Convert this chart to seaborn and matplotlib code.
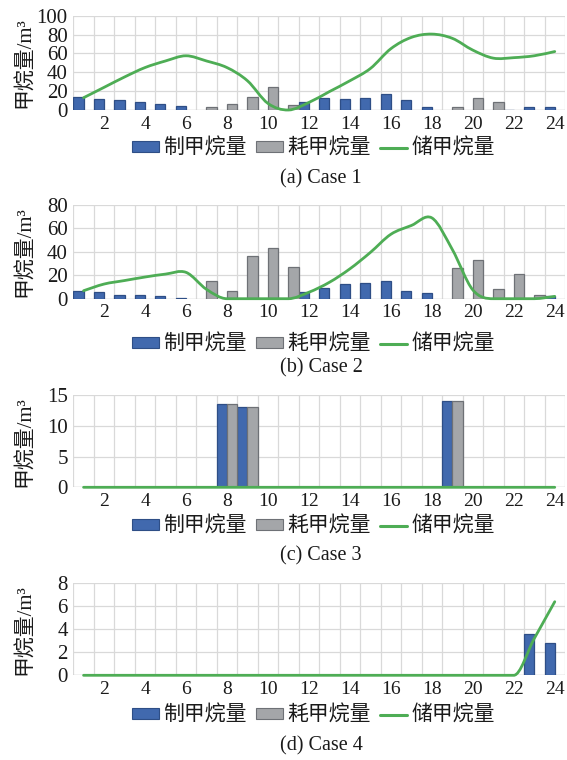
import numpy as np
import pandas as pd
import matplotlib
matplotlib.use("Agg")
import matplotlib.pyplot as plt
from matplotlib.path import Path
from matplotlib.patches import PathPatch, Patch
from matplotlib.lines import Line2D
import seaborn as sns

# ---- data -------------------------------------------------------------
hours = list(range(1, 25))

case1_make = [13.4, 11.3, 10.2, 8.1, 6.4, 4.6, 0, 0, 0, 0, 0, 8.5,
              12.4, 12.0, 12.4, 17.0, 10.2, 3.2, 0, 0, 0, 0.4, 3.2, 3.2]
case1_use = [0, 0, 0, 0, 0, 0, 3.5, 6.4, 13.4, 24.4, 5.3, 0,
             0, 0, 0, 0, 0, 0, 3.2, 12.4, 8.1, 0, 0, 0]
case1_store = [13, 24, 35, 45, 52, 57.5, 52, 45, 31, 7, 0, 8,
               19.5, 31, 44, 65, 77, 80.5, 76, 63.5, 55, 55.5, 57.5, 62]

case2_make = [6.8, 6.0, 3.4, 3.1, 2.6, 0.6, 0, 0, 0, 0, 0, 6.0,
              9.4, 12.3, 13.7, 14.8, 6.3, 5.1, 0, 0, 0, 0, 0, 2.0]
case2_use = [0, 0, 0, 0, 0, 0, 14.8, 6.8, 36.8, 43.3, 26.8, 0,
             0, 0, 0, 0, 0, 0, 26.2, 33.3, 8.3, 21.4, 3.1, 0]
case2_store = [6.8, 12.5, 15.5, 18.5, 21, 22.5, 8, 0, 0, 0, 0, 5.5,
               14, 25.5, 39.5, 55, 62.5, 69, 42, 7.5, 0, 0, 0, 2]

case3_make = [0, 0, 0, 0, 0, 0, 0, 13.5, 13.1, 0, 0, 0,
              0, 0, 0, 0, 0, 0, 14.0, 0, 0, 0, 0, 0]
case3_use = [0, 0, 0, 0, 0, 0, 0, 13.5, 13.1, 0, 0, 0,
             0, 0, 0, 0, 0, 0, 14.0, 0, 0, 0, 0, 0]
case3_store = [0] * 24

case4_make = [0] * 22 + [3.6, 2.8]
case4_use = [0] * 24
case4_store = [0] * 22 + [3.2, 6.4]

series_names = ["制甲烷量", "耗甲烷量", "储甲烷量"]
titles = ["(a) Case 1", "(b) Case 2", "(c) Case 3", "(d) Case 4"]
y_max = [100, 80, 15, 8]
y_step = [20, 20, 5, 2]
y_label = "甲烷量/m³"

cases = [
    (case1_make, case1_use, case1_store),
    (case2_make, case2_use, case2_store),
    (case3_make, case3_use, case3_store),
    (case4_make, case4_use, case4_store),
]

# ---- style ------------------------------------------------------------
BLUE, BLUE_EDGE = "#4169AE", "#2E4E86"
GRAY, GRAY_EDGE = "#A4A6A9", "#6E7176"
GREEN = "#4EAD55"
GRID = "#D9D9D9"
TEXT = "#1a1a1a"
FONTS = ["Liberation Serif", "Noto Sans CJK SC"]

sns.set_theme(style="white")
plt.rcParams["font.family"] = FONTS
plt.rcParams["axes.unicode_minus"] = False

W, H = 567, 760
fig = plt.figure(figsize=(W / 100, H / 100), dpi=100)

# axes boxes in pixels: (top, bottom)
boxes = [(15.7, 110.0), (205.0, 298.7), (395.0, 487.3), (583.3, 675.3)]
left_px, right_px = 73.3, 565.0
legend_y = [149, 345, 527, 716]
title_y = [179, 368, 556, 746]


def smooth_path(xs, ys):
    """Cubic Bezier path through every point; runs of zero stay flat."""
    pts = np.column_stack([xs, ys]).astype(float)
    n = len(pts)
    tang = np.zeros_like(pts)
    for i in range(n):
        a = pts[max(i - 1, 0)]
        b = pts[min(i + 1, n - 1)]
        tang[i] = (b - a) / 2.0
        at_zero = pts[i, 1] == 0 and (
            (i > 0 and pts[i - 1, 1] == 0) or
            (i < n - 1 and pts[i + 1, 1] == 0))
        if at_zero:
            tang[i, 1] = 0.0
    verts = [pts[0]]
    codes = [Path.MOVETO]
    for i in range(n - 1):
        c1 = pts[i] + tang[i] / 3.0
        c2 = pts[i + 1] - tang[i + 1] / 3.0
        verts += [c1, c2, pts[i + 1]]
        codes += [Path.CURVE4] * 3
    return Path(verts, codes)


for k, (make, use, store) in enumerate(cases):
    top, bot = boxes[k]
    ax = fig.add_axes([left_px / W, 1 - bot / H,
                       (right_px - left_px) / W, (bot - top) / H])

    df = pd.DataFrame({
        "hour": hours * 2,
        "value": list(make) + list(use),
        "kind": [series_names[0]] * 24 + [series_names[1]] * 24,
    })
    df = df[df["value"] > 0]

    sns.barplot(data=df, x="hour", y="value", hue="kind",
                order=hours, hue_order=series_names[:2],
                palette={series_names[0]: BLUE, series_names[1]: GRAY},
                width=1.0, dodge=True, saturation=1.0,
                linewidth=0.9, legend=False, ax=ax, zorder=2)
    blue_rgb = matplotlib.colors.to_rgb(BLUE)
    for bar in ax.patches:
        fc = bar.get_facecolor()[:3]
        is_blue = np.allclose(fc, blue_rgb, atol=0.02)
        bar.set_edgecolor(BLUE_EDGE if is_blue else GRAY_EDGE)

    # storage curve, drawn on the categorical positions of the bars
    xs = np.arange(len(hours))
    path = smooth_path(xs, store)
    ax.add_patch(PathPatch(path, fill=False, edgecolor=GREEN, lw=2.0,
                           zorder=4, clip_on=False, capstyle="round"))

    ax.set_xlim(-0.5, len(hours) - 0.5)
    ax.set_ylim(0, y_max[k])
    yt = np.arange(0, y_max[k] + 0.01, y_step[k])
    ax.set_yticks(yt)
    ax.set_yticklabels([f"{v:g}" for v in yt], fontfamily=FONTS)
    ax.set_xticks(xs[1::2])
    ax.set_xticklabels([str(h) for h in hours[1::2]], fontfamily=FONTS)
    ax.set_xticks(np.arange(-0.5, len(hours)), minor=True)

    ax.set_axisbelow(True)
    ax.grid(axis="y", which="major", color=GRID, lw=0.9)
    ax.grid(axis="x", which="minor", color=GRID, lw=0.9)
    ax.grid(axis="x", which="major", visible=False)
    for s in ax.spines.values():
        s.set_visible(False)
    ax.axhline(0, color="#BFBFBF", lw=0.9, zorder=1)

    ax.tick_params(axis="both", which="both", length=0, colors=TEXT)
    ax.tick_params(axis="x", pad=4, labelsize=14)
    ax.tick_params(axis="y", pad=4, labelsize=15)
    ax.set_xlabel("")
    ax.set_ylabel(y_label, fontsize=15, color=TEXT, fontfamily=FONTS)
    ax.yaxis.set_label_coords(-0.078, 0.5)

    handles = [
        Patch(facecolor=BLUE, edgecolor=BLUE_EDGE, lw=0.8),
        Patch(facecolor=GRAY, edgecolor=GRAY_EDGE, lw=0.8),
        Line2D([0], [0], color=GREEN, lw=2.2),
    ]
    fig.legend(handles, series_names, loc="center",
               bbox_to_anchor=(313 / W, 1 - legend_y[k] / H), ncol=3,
               frameon=False, handlelength=1.3,
               handleheight=0.45, handletextpad=0.2, columnspacing=0.45,
               borderpad=0, borderaxespad=0, labelcolor=TEXT,
               prop={"family": FONTS, "size": 15})
    fig.text(321 / W, 1 - title_y[k] / H, titles[k], ha="center",
             va="center", fontsize=14.5, color=TEXT, fontfamily=FONTS)

fig.savefig("out.png", dpi=100)
